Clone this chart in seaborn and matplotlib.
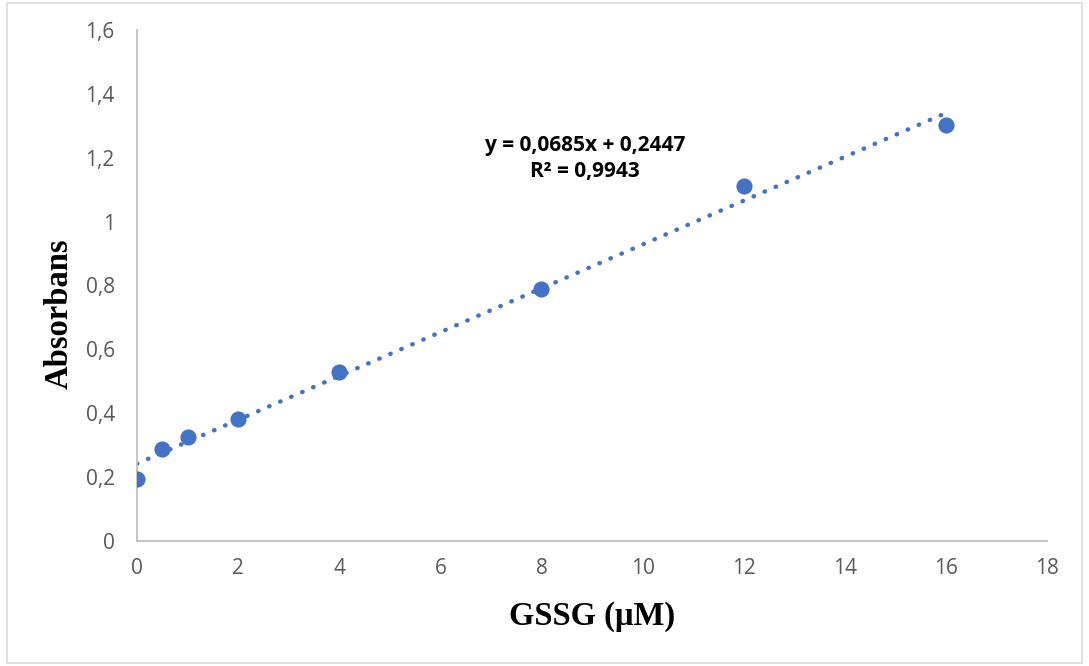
import matplotlib
matplotlib.use("Agg")
import matplotlib.pyplot as plt
import seaborn as sns
import numpy as np
import pandas as pd
from matplotlib.patches import Rectangle

# ---- data ----
conc = [0, 0.5, 1, 2, 4, 8, 12, 16]
absorb = [0.194, 0.288, 0.326, 0.382, 0.530, 0.789, 1.111, 1.302]
x_ticks = [0, 2, 4, 6, 8, 10, 12, 14, 16, 18]
y_ticks = [0, 0.2, 0.4, 0.6, 0.8, 1.0, 1.2, 1.4, 1.6]
y_tick_labels = ["0", "0,2", "0,4", "0,6", "0,8", "1", "1,2", "1,4", "1,6"]
equation_lines = ["y = 0,0685x + 0,2447", "R² = 0,9943"]
x_label = "GSSG (µM)"
y_label = "Absorbans"

df = pd.DataFrame({"conc": conc, "abs": absorb})

sns.set_theme(style="white")
plt.rcParams["font.family"] = ["Open Sans", "DejaVu Sans"]

fig = plt.figure(figsize=(10.89, 6.66), dpi=100)
ax = fig.add_axes([137 / 1089, 1 - 541 / 666, (1047 - 137) / 1089, (541 - 30) / 666])

color = "#4472C4"
sns.regplot(data=df, x="conc", y="abs", ax=ax, scatter=False, ci=None,
            line_kws=dict(color=color, linestyle=(0, (0.1, 2.6)), linewidth=3.2,
                          dash_capstyle="round"))
sns.scatterplot(data=df, x="conc", y="abs", ax=ax, color=color, s=135,
                edgecolor=color, linewidth=0, zorder=5)

ax.set_xlim(0, 18)
ax.set_ylim(0, 1.6)
ax.set_xticks(x_ticks)
ax.set_xticklabels([str(t) for t in x_ticks])
ax.set_yticks(y_ticks)
ax.set_yticklabels(y_tick_labels)
ax.tick_params(axis="both", length=0, labelsize=15, labelcolor="#595959")
ax.tick_params(axis="x", pad=12)
ax.tick_params(axis="y", pad=16)

for s in ["top", "right"]:
    ax.spines[s].set_visible(False)
for s in ["left", "bottom"]:
    ax.spines[s].set_color("#BFBFBF")
    ax.spines[s].set_linewidth(1.3)

ax.set_xlabel(x_label, family=["Liberation Serif", "DejaVu Serif"], fontweight="bold",
              fontsize=23.5, color="black", labelpad=16)
ax.set_ylabel(y_label, family=["Liberation Serif", "DejaVu Serif"], fontweight="bold",
              fontsize=23.5, color="black")
ax.yaxis.set_label_coords(-0.069, 0.445)

ax.text(585 / 1089, 1 - 145 / 666, equation_lines[0], transform=fig.transFigure,
        ha="center", va="center", fontsize=15, fontweight="bold", color="black")
ax.text(585 / 1089, 1 - 172 / 666, equation_lines[1], transform=fig.transFigure,
        ha="center", va="center", fontsize=15, fontweight="bold", color="black")

fig.patches.append(Rectangle((7 / 1089, 3 / 666), 1075 / 1089, 660 / 666,
                             transform=fig.transFigure, fill=False,
                             edgecolor="#D9D9D9", linewidth=1.2))

fig.savefig("out.png", dpi=100)
